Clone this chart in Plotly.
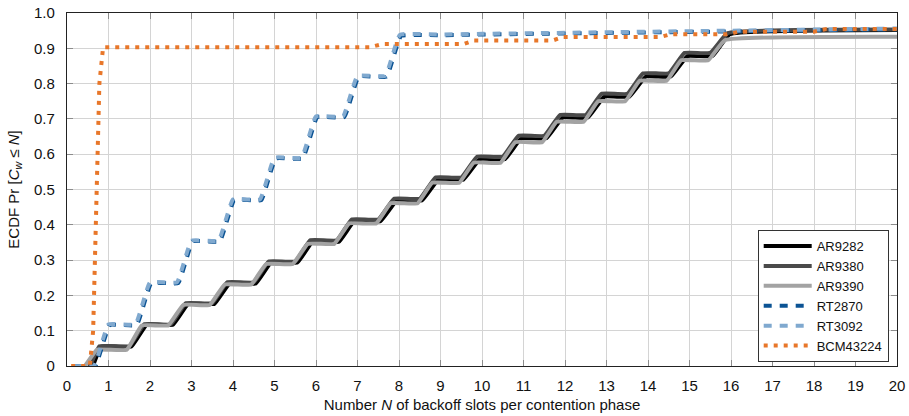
import plotly.graph_objects as go

# ---- data (ECDF corner points) ----
ar9282_x = [0.6, 0.62, 0.82, 1.55, 1.92, 2.55, 2.92, 3.55, 3.92, 4.55, 4.92, 5.55, 5.92, 6.55, 6.92,
            7.55, 7.95, 8.55, 8.95, 9.55, 9.95, 10.55, 10.95, 11.55, 11.95, 12.55, 12.95, 13.55, 13.95,
            14.55, 14.95, 15.55, 15.97, 20.0]
ar9282_y = [0.0, 0.0, 0.055, 0.055, 0.117, 0.117, 0.176, 0.176, 0.234, 0.234, 0.293, 0.293, 0.352, 0.352,
            0.41, 0.41, 0.469, 0.469, 0.528, 0.528, 0.586, 0.586, 0.645, 0.645, 0.704, 0.704, 0.763, 0.763,
            0.82, 0.82, 0.878, 0.878, 0.94, 0.952]

ar9380_x = [0.5, 0.55, 0.78, 1.5, 1.86, 2.5, 2.86, 3.5, 3.86, 4.5, 4.86, 5.5, 5.86, 6.5, 6.86,
            7.5, 7.88, 8.5, 8.88, 9.5, 9.88, 10.5, 10.88, 11.5, 11.88, 12.5, 12.88, 13.5, 13.88,
            14.5, 14.88, 15.5, 15.92, 20.0]
ar9380_y = [0.0, 0.0, 0.056, 0.056, 0.118, 0.118, 0.178, 0.178, 0.237, 0.237, 0.296, 0.296, 0.356, 0.356,
            0.415, 0.415, 0.474, 0.474, 0.534, 0.534, 0.593, 0.593, 0.652, 0.652, 0.711, 0.711, 0.771, 0.771,
            0.829, 0.829, 0.887, 0.887, 0.943, 0.953]

ar9390_x = [0.4, 0.43, 0.72, 1.44, 1.8, 2.44, 2.8, 3.44, 3.8, 4.44, 4.8, 5.44, 5.8, 6.44, 6.8,
            7.45, 7.8, 8.45, 8.8, 9.45, 9.8, 10.45, 10.8, 11.45, 11.8, 12.45, 12.8, 13.45, 13.8,
            14.45, 14.8, 15.45, 15.85, 20.0]
ar9390_y = [0.0, 0.0, 0.046, 0.046, 0.115, 0.115, 0.173, 0.173, 0.231, 0.231, 0.289, 0.289, 0.346, 0.346,
            0.404, 0.404, 0.461, 0.461, 0.519, 0.519, 0.576, 0.576, 0.634, 0.634, 0.692, 0.692, 0.75, 0.75,
            0.808, 0.808, 0.866, 0.866, 0.923, 0.933]

rt2870_x = [0.15, 0.68, 1.03, 1.68, 2.03, 2.68, 3.03, 3.68, 4.03, 4.68, 5.03, 5.68, 6.03, 6.68, 7.03,
            7.7, 8.05, 9.0, 10.0, 12.0, 14.0, 16.0, 18.0, 20.0]
rt2870_y = [0.0, 0.0, 0.116, 0.116, 0.235, 0.235, 0.353, 0.353, 0.47, 0.47, 0.588, 0.588, 0.705, 0.705,
            0.82, 0.82, 0.935, 0.937, 0.939, 0.942, 0.945, 0.948, 0.951, 0.954]

rt3092_x = [0.15, 0.65, 1.0, 1.65, 2.0, 2.65, 3.0, 3.65, 4.0, 4.65, 5.0, 5.65, 6.0, 6.65, 7.0,
            7.67, 8.02, 9.0, 10.0, 12.0, 14.0, 16.0, 18.0, 20.0]
rt3092_y = [0.0, 0.0, 0.118, 0.118, 0.237, 0.237, 0.355, 0.355, 0.472, 0.472, 0.59, 0.59, 0.707, 0.707,
            0.822, 0.822, 0.938, 0.939, 0.941, 0.944, 0.947, 0.95, 0.953, 0.956]

bcm_x = [0.1, 0.55, 0.63, 0.71, 0.78, 0.87, 7.3, 7.6, 9.55, 9.8, 11.7, 11.95, 14.3, 14.55, 15.9, 16.2,
         18.0, 18.3, 20.0]
bcm_y = [0.0, 0.0, 0.1, 0.45, 0.8, 0.903, 0.903, 0.912, 0.912, 0.922, 0.922, 0.932, 0.932, 0.94, 0.94,
         0.947, 0.947, 0.955, 0.955]

x_ticks = list(range(0, 21))
y_ticks = [0, 0.1, 0.2, 0.3, 0.4, 0.5, 0.6, 0.7, 0.8, 0.9, 1.0]
y_tick_text = ["0", "0.1", "0.2", "0.3", "0.4", "0.5", "0.6", "0.7", "0.8", "0.9", "1.0"]

FONT = "Liberation Sans, Arial, Helvetica, sans-serif"

fig = go.Figure()
series = [
    ("AR9282", ar9282_x, ar9282_y, "#000000", "solid", "spline"),
    ("AR9380", ar9380_x, ar9380_y, "#4a4a4a", "solid", "spline"),
    ("AR9390", ar9390_x, ar9390_y, "#a3a3a3", "solid", "spline"),
    ("RT2870", rt2870_x, rt2870_y, "#0b5394", "8px,8px", "spline"),
    ("RT3092", rt3092_x, rt3092_y, "#80a9cf", "8px,8px", "spline"),
    ("BCM43224", bcm_x, bcm_y, "#e8772a", "4px,6px", "linear"),
]
for name, xs, ys, col, dash, shape in series:
    line = dict(color=col, width=4, dash=dash, shape=shape)
    if shape == "spline":
        line["smoothing"] = 0.3
    fig.add_trace(go.Scatter(x=xs, y=ys, mode="lines", name=name, line=line))

axis_common = dict(
    showgrid=True, gridcolor="#d4d4d4", gridwidth=1.3,
    showline=True, linecolor="#222222", linewidth=1.3, mirror="ticks",
    ticks="inside", ticklen=6, tickcolor="#8c8c8c", tickwidth=1.3,
    zeroline=False, automargin=False, ticklabeloverflow="allow",
    tickfont=dict(family=FONT, size=15, color="#111"),
)

fig.update_xaxes(range=[0, 20], tickvals=x_ticks, ticktext=[str(v) for v in x_ticks],
                 title=dict(text="Number <i>N</i> of backoff slots per contention phase",
                            font=dict(family=FONT, size=15, color="#111"), standoff=6),
                 ticklabelstandoff=6, **axis_common)
fig.update_yaxes(range=[0, 1.0], tickvals=y_ticks, ticktext=y_tick_text,
                 title=dict(text="ECDF Pr [<i>C<sub>w</sub></i> ≤ <i>N</i>]",
                            font=dict(family=FONT, size=15, color="#111"), standoff=10),
                 ticklabelstandoff=8, **axis_common)

fig.update_layout(
    width=909, height=416,
    margin=dict(l=67, r=12, t=13, b=50),
    plot_bgcolor="white", paper_bgcolor="white",
    font=dict(family=FONT, size=14, color="#111"),
    legend=dict(x=0.99, y=0.011, xanchor="right", yanchor="bottom",
                bgcolor="white", bordercolor="#333", borderwidth=1,
                font=dict(family=FONT, size=13, color="#111"),
                itemwidth=48, entrywidth=140, tracegroupgap=0),
    showlegend=True,
)

# remove the default page margin so the figure fills the 909x416 window exactly
fig.write_html("out.html",
               config={"displayModeBar": False},
               post_script="document.body.style.margin='0';document.body.style.overflow='hidden';")
